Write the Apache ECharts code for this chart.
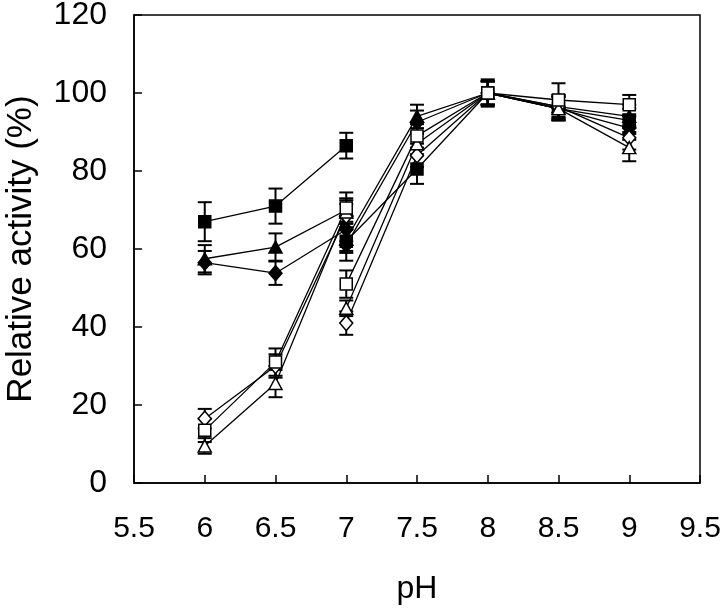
<!DOCTYPE html>
<html>
<head>
<meta charset="utf-8">
<script src="https://cdn.jsdelivr.net/npm/echarts@6/dist/echarts.min.js"></script>
<style>
html,body{margin:0;padding:0;background:#fff;}
#chart{width:720px;height:611px;}
</style>
</head>
<body>
<div id="chart"></div>
<script>
// pH values for the two buffer ranges
const phLow = [6, 6.5, 7];
const phHigh = [7, 7.5, 8, 8.5, 9];
const xTicks = [5.5, 6, 6.5, 7, 7.5, 8, 8.5, 9, 9.5];

// Low-pH range (pH 6-7)
const filledSquareLow = [67, 71, 86.5];
const filledSquareLowErr = [5, 4.5, 3.3];
const filledTriangleLow = [57.5, 60.5, 70];
const filledTriangleLowErr = [3.5, 3.5, 3];
const filledDiamondLow = [56.5, 53.8, 65];
const filledDiamondLowErr = [3, 3, 3];
const openSquareLow = [13.5, 31, 70.5];
const openSquareLowErr = [3, 3.5, 4];
const openTriangleLow = [9.5, 25.5, 69.5];
const openTriangleLowErr = [2, 3.5, 3];
const openDiamondLow = [16.5, 30, 68.5];
const openDiamondLowErr = [2.5, 3, 3];

// High-pH range (pH 7-9)
const filledSquareHigh = [62, 80.5, 100, 96, 93];
const filledSquareHighErr = [3, 3.8, 3, 3, 3];
const filledTriangleHigh = [62.5, 94, 100, 96.5, 94];
const filledTriangleHighErr = [3, 3, 3, 3, 3];
const filledDiamondHigh = [61, 92.5, 100, 96, 91];
const filledDiamondHighErr = [4, 3, 3, 3, 3];
const openSquareHigh = [51, 89, 100, 98.2, 97];
const openSquareHighErr = [3.5, 3, 3.5, 4.3, 2.5];
const openTriangleHigh = [44.8, 87, 100, 96, 86];
const openTriangleHighErr = [2, 3, 3, 3, 3.5];
const openDiamondHigh = [41, 84, 100, 96.5, 88.5];
const openDiamondHighErr = [3, 3, 3, 3, 3];

const FONT = "'Liberation Sans', Arial, sans-serif";
const series = [];

function errSeries(xs, ys, errs) {
  return {
    type: 'custom',
    z: 1,
    silent: true,
    data: xs.map((x, i) => [x, ys[i] - errs[i], ys[i] + errs[i]]),
    renderItem: function (params, api) {
      const lo = api.coord([api.value(0), api.value(1)]);
      const hi = api.coord([api.value(0), api.value(2)]);
      const hw = 7;
      const st = { stroke: '#000', lineWidth: 2 };
      return {
        type: 'group',
        children: [
          { type: 'line', shape: { x1: lo[0], y1: lo[1], x2: hi[0], y2: hi[1] }, style: st },
          { type: 'line', shape: { x1: lo[0] - hw, y1: lo[1], x2: lo[0] + hw, y2: lo[1] }, style: st },
          { type: 'line', shape: { x1: hi[0] - hw, y1: hi[1], x2: hi[0] + hw, y2: hi[1] }, style: st }
        ]
      };
    }
  };
}

function addLine(xs, ys, errs, symbol, filled, z) {
  series.push(errSeries(xs, ys, errs));
  let size = 12;
  if (symbol === 'triangle') size = [13, 12];
  if (symbol === 'diamond') size = [13, 15];
  series.push({
    type: 'line',
    z: z,
    silent: true,
    data: xs.map((x, i) => [x, ys[i]]),
    symbol: symbol,
    symbolSize: size,
    showAllSymbol: true,
    itemStyle: { color: filled ? '#000' : '#fff', borderColor: '#000', borderWidth: 1.5 },
    lineStyle: { color: '#000', width: 1.3 },
    emphasis: { disabled: true }
  });
}

addLine(phLow, filledSquareLow, filledSquareLowErr, 'rect', true, 2);
addLine(phLow, filledTriangleLow, filledTriangleLowErr, 'triangle', true, 2);
addLine(phLow, filledDiamondLow, filledDiamondLowErr, 'diamond', true, 2);
addLine(phHigh, filledSquareHigh, filledSquareHighErr, 'rect', true, 2);
addLine(phHigh, filledDiamondHigh, filledDiamondHighErr, 'diamond', true, 2);
addLine(phHigh, filledTriangleHigh, filledTriangleHighErr, 'triangle', true, 2);
addLine(phLow, openDiamondLow, openDiamondLowErr, 'diamond', false, 3);
addLine(phLow, openTriangleLow, openTriangleLowErr, 'triangle', false, 3);
addLine(phLow, openSquareLow, openSquareLowErr, 'rect', false, 3);
addLine(phHigh, openDiamondHigh, openDiamondHighErr, 'diamond', false, 3);
addLine(phHigh, openTriangleHigh, openTriangleHighErr, 'triangle', false, 3);
addLine(phHigh, openSquareHigh, openSquareHighErr, 'rect', false, 3);

const chart = echarts.init(document.getElementById('chart'), null, { renderer: 'canvas' });
chart.setOption({
  backgroundColor: '#fff',
  animation: false,
  textStyle: { fontFamily: FONT },
  grid: { left: 134, right: 20, top: 15, bottom: 128, containLabel: false, outerBoundsMode: 'none', show: true, borderColor: '#000', borderWidth: 1.5, backgroundColor: 'transparent' },
  xAxis: {
    type: 'value',
    min: xTicks[0],
    max: xTicks[xTicks.length - 1],
    interval: 0.5,
    name: 'pH',
    nameLocation: 'middle',
    nameGap: 90,
    nameTextStyle: { fontSize: 32, color: '#000', fontFamily: FONT },
    axisLine: { onZero: false, lineStyle: { color: '#000', width: 1.5 } },
    axisTick: { inside: true, length: 8, lineStyle: { color: '#000', width: 1.5 } },
    axisLabel: { margin: 31, fontSize: 30, color: '#000', fontFamily: FONT, showMinLabel: true, showMaxLabel: true },
    splitLine: { show: false }
  },
  yAxis: {
    type: 'value',
    min: 0,
    max: 120,
    interval: 20,
    name: 'Relative activity (%)',
    nameLocation: 'middle',
    nameGap: 95,
    nameRotate: 90,
    nameTextStyle: { fontSize: 35, color: '#000', fontFamily: FONT },
    axisLine: { lineStyle: { color: '#000', width: 1.5 } },
    axisTick: { inside: true, length: 8, lineStyle: { color: '#000', width: 1.5 } },
    axisLabel: { margin: 27, fontSize: 32, color: '#000', fontFamily: FONT },
    splitLine: { show: false }
  },
  series: series
});
</script>
</body>
</html>
